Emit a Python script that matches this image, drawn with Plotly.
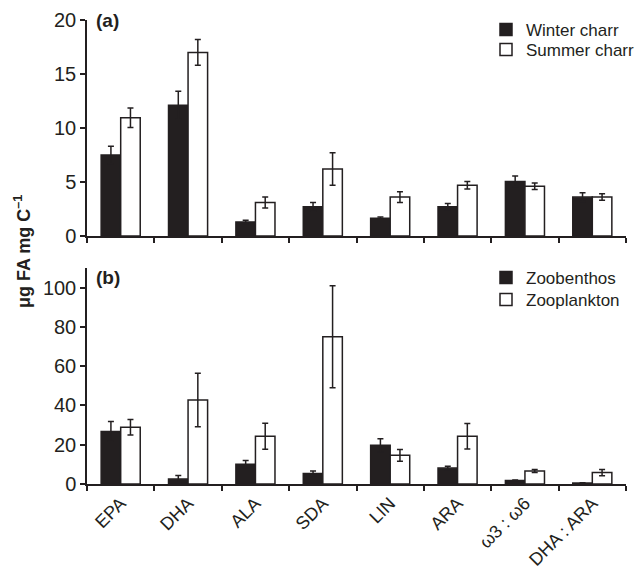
import plotly.graph_objects as go

categories = ["EPA", "DHA", "ALA", "SDA", "LIN", "ARA", "ω3 : ω6", "DHA : ARA"]

winter = [7.5, 12.1, 1.3, 2.7, 1.65, 2.7, 5.05, 3.6]
winter_err = [0.8, 1.3, 0.15, 0.4, 0.1, 0.3, 0.5, 0.4]
summer = [10.95, 17.0, 3.1, 6.2, 3.6, 4.7, 4.6, 3.6]
summer_err = [0.9, 1.2, 0.5, 1.5, 0.5, 0.35, 0.3, 0.3]

benthos = [26.8, 2.5, 10.1, 5.4, 19.7, 8.1, 1.8, 0.5]
benthos_err = [5.0, 1.8, 1.9, 1.2, 3.4, 1.0, 0.3, 0.1]
plankton = [28.9, 42.8, 24.3, 75.0, 14.6, 24.3, 6.6, 5.8]
plankton_err = [4.0, 13.6, 6.6, 26.0, 3.0, 6.5, 0.8, 1.6]

FONT = "Liberation Sans, Arial, sans-serif"
DARK = "#231f20"

def bar(name, x, y, err, fill, xa, ya, legend):
    return go.Bar(
        name=name, x=x, y=y, xaxis=xa, yaxis=ya, legend=legend, showlegend=True,
        marker=dict(color=fill, line=dict(color=DARK, width=1.5)),
        error_y=dict(type="data", array=err, visible=True, color=DARK,
                     thickness=1.5, width=3),
    )

fig = go.Figure()
fig.add_trace(bar("Winter charr", categories, winter, winter_err, DARK, "x", "y", "legend"))
fig.add_trace(bar("Summer charr", categories, summer, summer_err, "white", "x", "y", "legend2"))
fig.add_trace(bar("Zoobenthos", categories, benthos, benthos_err, DARK, "x2", "y2", "legend3"))
fig.add_trace(bar("Zooplankton", categories, plankton, plankton_err, "white", "x2", "y2", "legend4"))

axis_common = dict(showline=True, linecolor=DARK, linewidth=1.5, ticks="outside",
                   tickcolor=DARK, ticklen=5, tickwidth=1.5, showgrid=False,
                   zeroline=False, tickfont=dict(family=FONT, size=20, color=DARK))

# page offset: the browser body adds an 8px margin, so the figure is 8px smaller
def px_x(p):
    return (p - 87) / 539

def px_y(p):
    return (484 - p) / 464

def leg(ypix):
    return dict(x=px_x(486), y=px_y(ypix), xanchor="left", yanchor="middle",
                bgcolor="rgba(0,0,0,0)", font=dict(family=FONT, size=17, color=DARK),
                itemwidth=30)

fig.update_layout(
    width=635, height=565,
    margin=dict(l=79, r=17, t=12, b=89, autoexpand=False),
    plot_bgcolor="white", paper_bgcolor="white",
    showlegend=True,
    barmode="group", bargap=0.42, bargroupgap=0,
    font=dict(family=FONT, color=DARK),
    xaxis=dict(domain=[0, 1], anchor="y", type="category", tickson="boundaries",
               showticklabels=False, range=[-0.5, 7.5], **axis_common),
    yaxis=dict(domain=[0.5345, 1.0], anchor="x", range=[0, 20], tickvals=[0, 5, 10, 15, 20],
               **axis_common),
    xaxis2=dict(domain=[0, 1], anchor="y2", type="category", tickson="boundaries",
                tickangle=-45, range=[-0.5, 7.5],
                **{**axis_common, "tickfont": dict(family=FONT, size=18, color=DARK)}),
    yaxis2=dict(domain=[0, 0.4655], anchor="x2", range=[0, 110],
                tickvals=[0, 20, 40, 60, 80, 100], **axis_common),
    legend=leg(30),
    legend2=leg(50),
    legend3=leg(278),
    legend4=leg(300),
    annotations=[
        dict(text="<b>(a)</b>", xref="paper", yref="paper", x=px_x(94), y=px_y(20),
             xanchor="left", yanchor="middle", showarrow=False,
             font=dict(family=FONT, size=19, color=DARK)),
        dict(text="<b>(b)</b>", xref="paper", yref="paper", x=px_x(94), y=px_y(277),
             xanchor="left", yanchor="middle", showarrow=False,
             font=dict(family=FONT, size=19, color=DARK)),
        dict(text="<b>μg FA mg C<sup>–1</sup></b>", xref="paper", yref="paper",
             x=px_x(22), y=px_y(252), xanchor="center", yanchor="middle",
             textangle=-90, showarrow=False, font=dict(family=FONT, size=18, color=DARK)),
    ],
)

fig.write_html("out.html")
